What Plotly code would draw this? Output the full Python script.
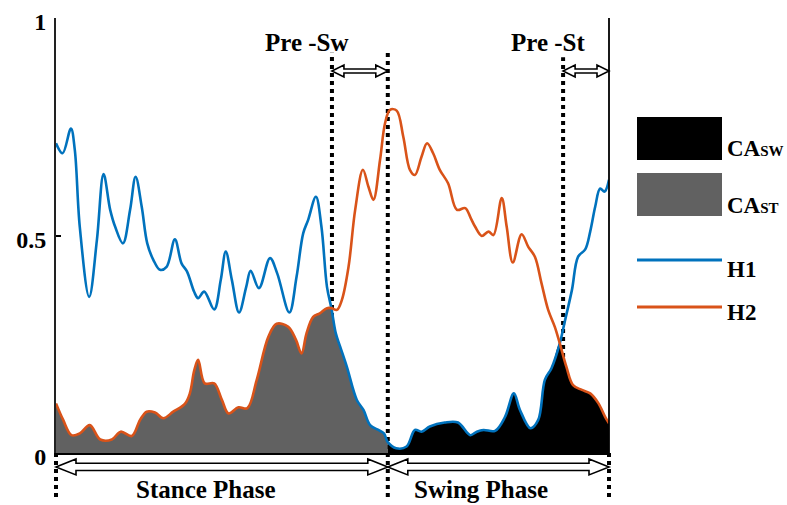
import plotly.graph_objects as go

# ---------------- data ----------------
h1_x = [0, 1.2, 2.7, 3.4, 4.3, 6.0, 7.4, 8.6, 9.8, 10.7, 12.1, 13.4, 14.4, 15.5, 16.5, 17.6,
        18.8, 20.0, 21.5, 22.7, 23.7, 25.0, 25.7, 26.8, 28.6, 29.8, 30.7, 31.8, 33.1, 34.4,
        35.2, 36.7, 38.7, 40.0, 42.2, 43.5, 44.7, 45.6, 47.0, 48.0, 49.0, 49.8, 50.6, 51.4,
        52.6, 54.4, 55.6, 56.8, 58.3, 59.3, 60.0, 61.5, 63.4, 64.9, 66.1, 67.6, 70.3, 72.7,
        74.9, 76.1, 77.3, 79.4, 81.2, 82.8, 83.9, 85.8, 87.2, 88.4, 89.6, 91.1, 92.0, 93.3,
        94.4, 95.7, 96.6, 97.5, 98.4, 99.2, 100]
h1_y = [0.712, 0.689, 0.746, 0.697, 0.520, 0.359, 0.490, 0.641, 0.559, 0.520, 0.482, 0.559,
        0.635, 0.566, 0.482, 0.444, 0.421, 0.428, 0.491, 0.436, 0.417, 0.370, 0.356, 0.371,
        0.330, 0.398, 0.463, 0.398, 0.323, 0.382, 0.419, 0.379, 0.448, 0.413, 0.323, 0.405,
        0.505, 0.536, 0.589, 0.520, 0.382, 0.333, 0.275, 0.244, 0.198, 0.122, 0.099, 0.064,
        0.053, 0.045, 0.025, 0.011, 0.015, 0.053, 0.049, 0.061, 0.070, 0.070, 0.041, 0.049,
        0.053, 0.051, 0.083, 0.137, 0.099, 0.057, 0.076, 0.168, 0.195, 0.252, 0.302, 0.375,
        0.451, 0.468, 0.509, 0.566, 0.608, 0.601, 0.628]

h2_x = [0, 1.3, 2.8, 4.3, 6.1, 8.0, 10.1, 11.7, 13.7, 15.2, 16.4, 17.9, 19.4, 21.2, 23.3,
        24.2, 25.0, 25.7, 26.9, 28.6, 30.0, 31.2, 33.0, 34.6, 36.3, 38.4, 39.9, 42.0, 43.4,
        44.4, 45.3, 46.5, 47.7, 49.0, 49.8, 50.8, 51.7, 52.9, 54.1, 55.5, 56.5, 57.4, 58.6,
        59.5, 60.4, 61.6, 62.8, 64.0, 64.9, 66.1, 67.1, 68.2, 69.4, 70.9, 72.5, 74.0, 75.0,
        75.8, 77.0, 78.2, 79.1, 80.6, 81.5, 82.6, 84.2, 85.4, 86.6, 87.8, 89.0, 90.2, 91.1,
        92.3, 93.5, 95.1, 96.6, 98.1, 99.3, 100]
h2_y = [0.114, 0.076, 0.041, 0.045, 0.064, 0.031, 0.031, 0.049, 0.039, 0.076, 0.095, 0.093,
        0.080, 0.095, 0.113, 0.137, 0.190, 0.214, 0.160, 0.160, 0.122, 0.091, 0.105, 0.103,
        0.168, 0.267, 0.297, 0.290, 0.260, 0.229, 0.275, 0.313, 0.321, 0.333, 0.333, 0.329,
        0.352, 0.428, 0.559, 0.651, 0.612, 0.582, 0.674, 0.758, 0.789, 0.787, 0.727, 0.651,
        0.639, 0.681, 0.712, 0.689, 0.651, 0.620, 0.559, 0.563, 0.540, 0.520, 0.499, 0.509,
        0.501, 0.586, 0.520, 0.438, 0.503, 0.474, 0.451, 0.390, 0.329, 0.290, 0.252, 0.198,
        0.156, 0.145, 0.137, 0.114, 0.083, 0.068]

phase_bounds = [0, 60, 100]
phase_names = ["Stance Phase", "Swing Phase"]
phase_label_x = [27.1, 76.9]
cross_stance = 49.8
cross_swing = 91.1
pre_sw = [49.9, 60]
pre_st = [91.7, 100]
pre_names = ["Pre -Sw", "Pre -St"]
pre_label_x = [45.4, 89.0]
y_ticks = [0, 0.5, 1]
y_ticklabels = ["0", "0.5", "1"]
legend_labels = ["CA<span style='font-size:15px'>SW</span>",
                 "CA<span style='font-size:15px'>ST</span>", "H1", "H2"]

BLUE = "#0072BD"
ORANGE = "#D95319"
GRAY = "#616161"
FONT = "Liberation Serif"

# ---------------- fills (min of the two curves) ----------------
st_pts = [(x, y) for x, y in zip(h2_x, h2_y) if x <= cross_stance] + \
         [(x, y) for x, y in zip(h1_x, h1_y) if cross_stance < x <= phase_bounds[1]]
sw_pts = [(x, y) for x, y in zip(h1_x, h1_y) if phase_bounds[1] <= x <= cross_swing] + \
         [(x, y) for x, y in zip(h2_x, h2_y) if x > cross_swing]

fig = go.Figure()
fig.add_trace(go.Scatter(x=[p[0] for p in st_pts], y=[p[1] for p in st_pts], mode="lines",
                         line=dict(width=0, color=GRAY, shape="spline"), fill="tozeroy",
                         fillcolor=GRAY, showlegend=False, hoverinfo="skip"))
fig.add_trace(go.Scatter(x=[p[0] for p in sw_pts], y=[p[1] for p in sw_pts], mode="lines",
                         line=dict(width=0, color="black", shape="spline"), fill="tozeroy",
                         fillcolor="black", showlegend=False, hoverinfo="skip"))
fig.add_trace(go.Scatter(x=h1_x, y=h1_y, mode="lines", name="H1",
                         line=dict(color=BLUE, width=2.6, shape="spline"), showlegend=False))
fig.add_trace(go.Scatter(x=h2_x, y=h2_y, mode="lines", name="H2",
                         line=dict(color=ORANGE, width=2.6, shape="spline"), showlegend=False))

# ---------------- geometry helpers ----------------
PLOT_W, PLOT_H = 553, 435
PX_X = 1 / PLOT_W
PX_Y = 1 / PLOT_H


def px(x):
    return x / 100.0


def dbl_arrow(xa, xb, yc, s, h, L):
    a, b = px(xa), px(xb)
    l, ss, hh = L * PX_X, s * PX_Y, h * PX_Y
    pts = [(a, yc), (a + l, yc + hh), (a + l, yc + ss), (b - l, yc + ss), (b - l, yc + hh),
           (b, yc), (b - l, yc - hh), (b - l, yc - ss), (a + l, yc - ss), (a + l, yc - hh)]
    return "M " + " L ".join(f"{x:.5f},{y:.5f}" for x, y in pts) + " Z"


shapes = []
dot = dict(color="black", width=4, dash="dot")
bottom = -0.101
shapes.append(dict(type="line", xref="paper", yref="paper", x0=px(phase_bounds[0]), x1=px(phase_bounds[0]),
                   y0=bottom, y1=0, line=dot, layer="below"))
shapes.append(dict(type="line", xref="paper", yref="paper", x0=px(phase_bounds[1]), x1=px(phase_bounds[1]),
                   y0=bottom, y1=0.92, line=dot, layer="below"))
shapes.append(dict(type="line", xref="paper", yref="paper", x0=px(phase_bounds[2]), x1=px(phase_bounds[2]),
                   y0=bottom, y1=0, line=dot, layer="below"))
shapes.append(dict(type="line", xref="paper", yref="paper", x0=px(phase_bounds[2]), x1=px(phase_bounds[2]),
                   y0=0, y1=1.0, line=dict(color="black", width=1.8)))
shapes.append(dict(type="line", xref="paper", yref="paper", x0=px(pre_sw[0]), x1=px(pre_sw[0]),
                   y0=0, y1=0.92, line=dot, layer="below"))
shapes.append(dict(type="line", xref="paper", yref="paper", x0=px(pre_st[0]), x1=px(pre_st[0]),
                   y0=0, y1=0.91, line=dot, layer="below"))

arrow_style = dict(color="black", width=1.6)
for a, b in (pre_sw, pre_st):
    shapes.append(dict(type="path", xref="paper", yref="paper", path=dbl_arrow(a, b, 0.878, 2, 6, 12),
                       fillcolor="white", line=arrow_style))
for i in range(2):
    shapes.append(dict(type="path", xref="paper", yref="paper",
                       path=dbl_arrow(phase_bounds[i], phase_bounds[i + 1], -0.032, 3.6, 8, 20),
                       fillcolor="white", line=arrow_style))

# legend
lx0, lx1 = (637 - 56) * PX_X, (722 - 56) * PX_X
shapes.append(dict(type="rect", xref="paper", yref="paper", x0=lx0, x1=lx1, y0=0.6736, y1=0.7724,
                   fillcolor="black", line=dict(width=0)))
shapes.append(dict(type="rect", xref="paper", yref="paper", x0=lx0, x1=lx1, y0=0.5448, y1=0.6437,
                   fillcolor=GRAY, line=dict(width=0)))
shapes.append(dict(type="line", xref="paper", yref="paper", x0=lx0, x1=lx1, y0=0.4437, y1=0.4437,
                   line=dict(color=BLUE, width=3)))
shapes.append(dict(type="line", xref="paper", yref="paper", x0=lx0, x1=lx1, y0=0.3356, y1=0.3356,
                   line=dict(color=ORANGE, width=3)))

annotations = []
bold = dict(family=FONT, size=25, color="black", weight="bold")
for name, x in zip(pre_names, pre_label_x):
    annotations.append(dict(text=name, x=px(x), y=0.943, xref="paper", yref="paper",
                            showarrow=False, font=bold, xanchor="center", yanchor="middle"))
for name, x in zip(phase_names, phase_label_x):
    annotations.append(dict(text=name, x=px(x), y=-0.085, xref="paper", yref="paper",
                            showarrow=False, font=bold, xanchor="center", yanchor="middle"))
leg_x = (725 - 56) * PX_X
leg_font = dict(family=FONT, size=23, color="black", weight="bold")
for lab, y in zip(legend_labels, [0.699, 0.568, 0.421, 0.322]):
    annotations.append(dict(text=lab, x=leg_x, y=y, xref="paper", yref="paper", showarrow=False,
                            font=leg_font, xanchor="left", yanchor="middle"))

fig.update_layout(
    width=787, height=505,
    margin=dict(l=56, r=178, t=18, b=52, autoexpand=False),
    plot_bgcolor="white", paper_bgcolor="white",
    shapes=shapes, annotations=annotations,
    xaxis=dict(range=[0, 100], showgrid=False, zeroline=False, showline=True, linecolor="black",
               linewidth=1.5, showticklabels=False, ticks="", automargin=False),
    yaxis=dict(range=[0, 1], showgrid=False, zeroline=False, showline=True, linecolor="#222",
               linewidth=2, tickvals=y_ticks, ticktext=y_ticklabels, ticks="inside", ticklen=5,
               tickwidth=1.5, tickcolor="black", automargin=False,
               tickfont=dict(family=FONT, size=24, color="black", weight="bold"),
               ticklabelstandoff=3, ticklabelshift=4),
)

fig.write_html("out.html", config={"displayModeBar": False},
               post_script="document.body.style.margin='0';document.body.style.overflow='hidden';")
